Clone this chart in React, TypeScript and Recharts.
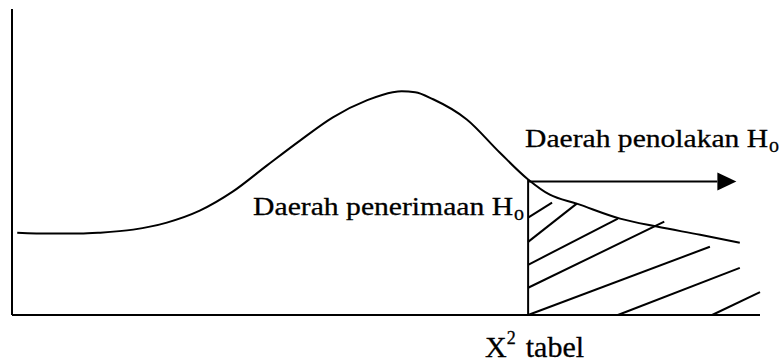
import {
  ComposedChart,
  Line,
  XAxis,
  YAxis,
  ReferenceLine,
  ReferenceDot,
} from 'recharts';

// chi-square density sketch (x: 0-100, y: 0-100)
const curveX = [
  0.7, 5.1, 9.1, 11.8, 16.2, 20.7, 25.1, 29.5, 34.1, 38.5, 42.9, 47.5, 50.9,
  52.1, 53.9, 56.3, 60.8, 65.2, 69.0, 71.9, 75.5, 81.3, 86.2, 92.0, 97.3,
];
const curveY = [
  26.9, 26.6, 26.6, 26.9, 27.9, 30.2, 34.1, 40.3, 48.9, 57.0, 64.6, 70.2, 72.8,
  73.1, 72.8, 70.5, 63.9, 53.1, 44.3, 39.3, 36.4, 31.5, 28.9, 26.2, 23.6,
];

// critical value (X² tabel) and the top of the cut
const criticalX = 69.0;
const criticalY = 44.3;
const arrowY = 43.6;
const arrowEnd = 94.3;

// hatching inside the rejection area
const hatchStart = [
  [69.0, 31.8],
  [69.0, 23.9],
  [69.0, 16.4],
  [69.0, 8.9],
  [69.0, 0],
  [81.0, 0],
  [93.6, 0],
];
const hatchEnd = [
  [72.2, 36.7],
  [75.5, 36.4],
  [81.0, 31.5],
  [87.2, 30.5],
  [93.3, 22.3],
  [97.3, 15.4],
  [100, 7.5],
];

const tickLabel = 'tabel';
const acceptLabel = 'Daerah penerimaan H';
const rejectLabel = 'Daerah penolakan H';

const data = curveX.map((x, i) => ({ x, y: curveY[i] }));

const FONT = "'Liberation Serif', 'Times New Roman', serif";

const CriticalTick = ({ x, y }: any) => (
  <text
    x={x - 43}
    y={y + 34}
    fontFamily={FONT}
    fontSize={30}
    fill="#000"
    stroke="#000"
    strokeWidth={0.3}
  >
    <tspan>X</tspan>
    <tspan dy={-13} fontSize={18}>2</tspan>
    <tspan dy={13} dx={10}>{tickLabel}</tspan>
  </text>
);

const makeLabel = (text: string, width: number, dx: number, dy: number) =>
  ({ cx, cy }: any) => (
    <g fontFamily={FONT} fill="#000" stroke="#000" strokeWidth={0.3}>
      <text
        x={cx + dx}
        y={cy + dy}
        fontSize={26}
        textLength={width}
        lengthAdjust="spacingAndGlyphs"
      >
        {text}
      </text>
      <text x={cx + dx + width + 1} y={cy + dy + 5} fontSize={20}>
        o
      </text>
    </g>
  );

const ArrowHead = ({ cx, cy }: any) => (
  <polygon points={`${cx},${cy - 9} ${cx},${cy + 9} ${cx + 19},${cy}`} fill="#000" />
);

export default function App() {
  return (
    <div style={{ position: 'absolute', left: 0, top: 0, background: '#fff' }}>
      <ComposedChart
        width={784}
        height={362}
        data={data}
        margin={{ top: 9, right: 24, bottom: 0, left: 11 }}
      >
        <XAxis
          dataKey="x"
          type="number"
          domain={[0, 100]}
          ticks={[criticalX]}
          tickLine={false}
          tick={<CriticalTick />}
          height={47}
          axisLine={{ stroke: '#000', strokeWidth: 2 }}
        />
        <YAxis
          type="number"
          domain={[0, 100]}
          width={1}
          tick={false}
          tickLine={false}
          axisLine={{ stroke: '#000', strokeWidth: 2 }}
        />
        <Line
          dataKey="y"
          type="monotone"
          stroke="#000"
          strokeWidth={2}
          dot={false}
          isAnimationActive={false}
        />
        <ReferenceLine
          segment={[
            { x: criticalX, y: 0 },
            { x: criticalX, y: criticalY },
          ]}
          stroke="#000"
          strokeWidth={2}
        />
        <ReferenceLine
          segment={[
            { x: criticalX, y: arrowY },
            { x: arrowEnd, y: arrowY },
          ]}
          stroke="#000"
          strokeWidth={2}
        />
        <ReferenceDot x={arrowEnd} y={arrowY} r={0} shape={<ArrowHead />} />
        {hatchStart.map((s, i) => (
          <ReferenceLine
            key={i}
            segment={[
              { x: s[0], y: s[1] },
              { x: hatchEnd[i][0], y: hatchEnd[i][1] },
            ]}
            stroke="#000"
            strokeWidth={2}
          />
        ))}
        <ReferenceDot
          x={criticalX}
          y={criticalY}
          r={0}
          shape={makeLabel(acceptLabel, 260, -275, 36)}
        />
        <ReferenceDot
          x={criticalX}
          y={criticalY}
          r={0}
          shape={makeLabel(rejectLabel, 243, -3, -32)}
        />
      </ComposedChart>
    </div>
  );
}
